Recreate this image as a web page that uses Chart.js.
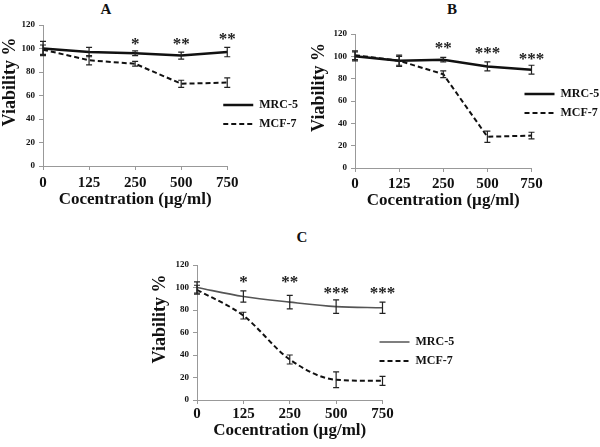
<!DOCTYPE html>
<html>
<head>
<meta charset="utf-8">
<script src="https://cdn.jsdelivr.net/npm/chart.js@4.4.1/dist/chart.umd.min.js"></script>
<style>
  html, body { margin: 0; padding: 0; background: #fff; overflow: hidden; }
  #wrap { position: relative; width: 600px; height: 447px; overflow: hidden; }
  canvas { position: absolute; }
  .letter { position: absolute; font: bold 15px "Liberation Serif", "Times New Roman", serif; color: #111; transform: translate(-50%, -50%); }
</style>
</head>
<body>
<div id="wrap">
  <div class="letter" style="left:106px;top:9px">A</div>
  <div class="letter" style="left:452px;top:9px">B</div>
  <div class="letter" style="left:302px;top:237px">C</div>
  <canvas id="chartA" width="303" height="215" style="left:0;top:0"></canvas>
  <canvas id="chartB" width="302" height="216" style="left:305px;top:0"></canvas>
  <canvas id="chartC" width="310" height="221" style="left:150px;top:225px"></canvas>
</div>
<script>
// concentrations (µg/ml)
const doses = ['0', '125', '250', '500', '750'];

// panel A
const mrc5A = [100, 97, 96, 94, 97];
const mrc5ErrA = [6, 4, 2, 3, 4];
const mcf7A = [99, 90, 87, 70, 71];
const mcf7ErrA = [4, 4, 2, 3, 4];
const starsA = ['', '', '*', '**', '**'];
const starAtA = [null, null, 106, 106, 110];

// panel B
const mrc5B = [100, 96, 97, 91, 88];
const mrc5ErrB = [4, 5, 2, 4, 4];
const mcf7B = [101, 96, 84, 28, 29];
const mcf7ErrB = [4, 4, 3, 5, 3];
const starsB = ['', '', '**', '***', '***'];
const starAtB = [null, null, 110, 105, 100];

// panel C
const mrc5C = [100, 92, 87, 83, 82];
const mrc5ErrC = [5, 5, 6, 6, 5];
const mcf7C = [98, 75, 36, 18, 17];
const mcf7ErrC = [4, 3, 4, 7, 4];
const starsC = ['', '*', '**', '***', '***'];
const starAtC = [null, 107, 107, 97, 97];

Chart.defaults.font.family = '"Liberation Serif", "Times New Roman", serif';
Chart.defaults.font.weight = 'bold';
Chart.defaults.color = '#111';

// vertical SD bars with caps
const errorBars = {
  id: 'errorBars',
  afterDatasetsDraw(chart) {
    const { ctx, scales: { x, y } } = chart;
    ctx.save();
    ctx.strokeStyle = '#222';
    ctx.lineWidth = 1.2;
    chart.data.datasets.forEach(ds => {
      (ds.errors || []).forEach((e, i) => {
        const px = x.getPixelForValue(i);
        const top = y.getPixelForValue(ds.data[i] + e);
        const bot = y.getPixelForValue(ds.data[i] - e);
        ctx.beginPath();
        ctx.moveTo(px, top); ctx.lineTo(px, bot);
        ctx.moveTo(px - 3, top); ctx.lineTo(px + 3, top);
        ctx.moveTo(px - 3, bot); ctx.lineTo(px + 3, bot);
        ctx.stroke();
      });
    });
    ctx.restore();
  }
};

// significance asterisks
const stars = {
  id: 'stars',
  afterDatasetsDraw(chart, args, opts) {
    const { ctx, scales: { x, y } } = chart;
    ctx.save();
    ctx.font = 'bold 17px "Liberation Serif", serif';
    ctx.fillStyle = '#222';
    ctx.textAlign = 'center';
    ctx.textBaseline = 'middle';
    opts.labels.forEach((s, i) => {
      if (!s) return;
      ctx.fillText(s, x.getPixelForValue(i), y.getPixelForValue(opts.at[i]) + 3);
    });
    ctx.restore();
  }
};

// nudge the legend box next to the plot
const legendShift = {
  id: 'legendShift',
  afterLayout(chart, args, opts) {
    const l = chart.legend;
    l.left += opts.dx;
    l.right = chart.width;
    l.top += opts.dy; l.bottom += opts.dy;
  }
};

function legendLabels(chart) {
  return Chart.defaults.plugins.legend.labels.generateLabels(chart).map((item, i) => {
    const ds = chart.data.datasets[i];
    return { ...item, lineDash: ds.borderDash || [], lineWidth: ds.borderWidth, strokeStyle: ds.borderColor };
  });
}

function buildChart(id, p) {
  return new Chart(document.getElementById(id), {
    type: 'line',
    data: {
      labels: doses,
      datasets: [
        { label: 'MRC-5', data: p.mrc5, errors: p.mrc5Err, borderColor: p.mrcColor, borderWidth: p.mrcWidth,
          pointRadius: 0, cubicInterpolationMode: p.curve, fill: false },
        { label: 'MCF-7', data: p.mcf7, errors: p.mcf7Err, borderColor: '#111', borderWidth: 2, borderDash: [5, 3],
          pointRadius: 0, cubicInterpolationMode: p.curve, fill: false }
      ]
    },
    options: {
      responsive: false,
      animation: false,
      devicePixelRatio: 1,
      layout: { padding: { top: p.top, left: 0, right: 0, bottom: 0 } },
      plugins: {
        legend: {
          position: 'right',
          align: 'start',
          labels: { usePointStyle: true, pointStyle: 'line', pointStyleWidth: 30, padding: 7,
            font: { size: 12, weight: 'bold' }, color: '#111', generateLabels: legendLabels }
        },
        tooltip: { enabled: false },
        stars: { labels: p.stars, at: p.starAt },
        legendShift: { dx: p.dx, dy: p.dy }
      },
      scales: {
        x: {
          grid: { drawOnChartArea: false, tickLength: 4, color: '#999' },
          border: { color: '#999' },
          ticks: { font: { size: 15, weight: 'bold' }, padding: p.xPad, maxRotation: 0, autoSkip: false },
          title: { display: true, text: 'Cocentration (µg/ml)', font: { size: 17, weight: 'bold' }, padding: { top: 0, bottom: 5 } },
          afterFit: s => { s.height = p.xH; }
        },
        y: {
          min: 0, max: 120,
          grid: { drawOnChartArea: false, tickLength: 4, color: '#999' },
          border: { color: '#999' },
          ticks: { stepSize: 20, font: { size: 9, weight: 'bold' }, padding: 4 },
          title: { display: true, text: '      Viability %', font: { size: 18, weight: 'bold' }, padding: { top: p.yTitlePad, bottom: 0 } },
          afterFit: s => { s.width = p.yW; }
        }
      }
    },
    plugins: [errorBars, stars, legendShift]
  });
}

buildChart('chartA', {
  mrc5: mrc5A, mrc5Err: mrc5ErrA, mcf7: mcf7A, mcf7Err: mcf7ErrA, stars: starsA, starAt: starAtA,
  mrcColor: '#111', mrcWidth: 2.5, curve: 'default',
  top: 25, xH: 49, xPad: 4, yW: 43, yTitlePad: 0, dx: -11, dy: 67
});

buildChart('chartB', {
  mrc5: mrc5B, mrc5Err: mrc5ErrB, mcf7: mcf7B, mcf7Err: mcf7ErrB, stars: starsB, starAt: starAtB,
  mrcColor: '#111', mrcWidth: 2.5, curve: 'default',
  top: 34, xH: 48, xPad: 3, yW: 50, yTitlePad: 4, dx: -14, dy: 47
});

buildChart('chartC', {
  mrc5: mrc5C, mrc5Err: mrc5ErrC, mcf7: mcf7C, mcf7Err: mcf7ErrC, stars: starsC, starAt: starAtC,
  mrcColor: '#555', mrcWidth: 1.6, curve: 'monotone',
  top: 40, xH: 46, xPad: 1, yW: 47, yTitlePad: 0, dx: -10, dy: 64
});
</script>
</body>
</html>
